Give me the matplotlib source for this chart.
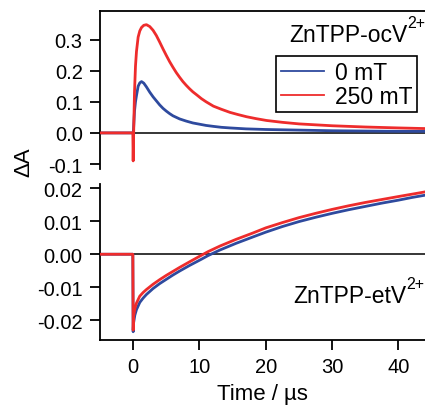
import matplotlib
matplotlib.use("Agg")
import matplotlib.pyplot as plt

plt.rcParams['font.family'] = ['Liberation Sans', 'DejaVu Sans']

# ---- data ----
t_top_red = [-5, -2, -0.05, 0.0, 0.05, 0.1, 0.2, 0.35, 0.5, 0.75, 1.0, 1.26, 1.6, 2.0,
             2.5, 3.0, 3.5, 4.0, 4.5, 5.0, 5.5, 6.0, 6.5, 7.0, 7.5, 8.0, 8.5, 9.0,
             9.6, 10.3, 11.0, 12.1, 13.3, 14.6, 15.8, 17.1, 18.5, 20.1, 22.5, 25.0,
             27.5, 30.0, 35.0, 40.0, 44.0]
red_top = [0.0, 0.0, 0.0, -0.09, -0.03, 0.03, 0.13, 0.215, 0.262, 0.308, 0.328, 0.339,
           0.346, 0.348, 0.342, 0.330, 0.313, 0.292, 0.270, 0.249, 0.229, 0.211, 0.194,
           0.179, 0.165, 0.153, 0.142, 0.132, 0.122, 0.110, 0.100, 0.086, 0.076, 0.066,
           0.059, 0.052, 0.046, 0.040, 0.034, 0.029, 0.026, 0.023, 0.019, 0.016, 0.014]
t_top_blue = [-5, -2, 0.0, 0.05, 0.1, 0.2, 0.35, 0.5, 0.75, 1.0, 1.26, 1.6, 2.0, 2.5,
              3.0, 3.5, 4.0, 4.5, 5.0, 5.5, 6.0, 6.5, 7.0, 8.0, 9.0, 10.0, 11.0, 12.1,
              13.3, 14.6, 17.0, 20.0, 25.0, 30.0, 35.0, 40.0, 44.0]
blue_top = [0.0, 0.0, 0.0, 0.01, 0.03, 0.07, 0.10, 0.12, 0.150, 0.161, 0.165, 0.160,
            0.148, 0.131, 0.116, 0.103, 0.090, 0.079, 0.070, 0.062, 0.055, 0.050, 0.045,
            0.038, 0.032, 0.028, 0.024, 0.021, 0.018, 0.016, 0.013, 0.011, 0.009,
            0.007, 0.006, 0.005, 0.005]

t_bot = [-5, -2, -0.05, 0.0, 0.05, 0.25, 0.5, 1.0, 1.5, 2.0, 3.0, 4.0, 5.0, 6.0, 7.0,
         8.5, 10.3, 11.3, 13.1, 15.5, 18.0, 20.0, 22.5, 25.0, 27.5, 30.0, 32.5, 35.0,
         37.5, 40.0, 42.0, 44.0]
red_bot = [0.0, 0.0, 0.0, -0.023, -0.019, -0.0165, -0.0148, -0.0127, -0.0116, -0.0107,
           -0.0091, -0.0077, -0.0064, -0.0052, -0.0040, -0.0023, -0.0003, 0.0008,
           0.0025, 0.0045, 0.0064, 0.0080, 0.0096, 0.0111, 0.0124, 0.0136, 0.0147,
           0.0157, 0.0166, 0.0175, 0.0182, 0.0189]
blue_bot = [0.0, 0.0, 0.0, -0.0235, -0.021, -0.0185, -0.0168, -0.0146, -0.0133,
            -0.0122, -0.0104, -0.0089, -0.0076, -0.0063, -0.0051, -0.0034, -0.0015,
            -0.0004, 0.0013, 0.0033, 0.0052, 0.0067, 0.0084, 0.0099, 0.0112, 0.0124,
            0.0135, 0.0145, 0.0155, 0.0164, 0.0172, 0.0179]

series_labels = ['0 mT', '250 mT']
top_label = 'ZnTPP-ocV'
bot_label = 'ZnTPP-etV'
charge = '2+'
xticks = [0, 10, 20, 30, 40]
top_yticks = [-0.1, 0.0, 0.1, 0.2, 0.3]
top_yticklabels = ['-0.1', '0.0', '0.1', '0.2', '0.3']
bot_yticks = [-0.02, -0.01, 0.0, 0.01, 0.02]
bot_yticklabels = ['-0.02', '-0.01', '0.00', '0.01', '0.02']

BLUE = '#2E4A9E'
RED = '#EE2C2C'

fig = plt.figure(figsize=(4.25, 4.1), dpi=100)
ax1 = fig.add_axes([0.2353, 0.5854, 0.7647, 0.3861])
ax2 = fig.add_axes([0.2353, 0.1683, 0.7647, 0.3805])

lw = 2.0
ax1.axhline(0, color='black', lw=1.1, zorder=1)
ax1.plot(t_top_blue, blue_top, color=BLUE, lw=lw, label=series_labels[0], zorder=2)
ax1.plot(t_top_red, red_top, color=RED, lw=lw, label=series_labels[1], zorder=3)
ax1.set_xlim(-5, 44)
ax1.set_ylim(-0.116, 0.393)
ax1.set_yticks(top_yticks)
ax1.set_yticklabels(top_yticklabels)
ax1.spines['right'].set_visible(False)
ax1.spines['bottom'].set_visible(False)
ax1.tick_params(axis='x', bottom=False, labelbottom=False)


def label_with_sup(ax, x_right, y_base, main, sup):
    # main text ends where the smaller, raised superscript begins
    sup_t = ax.text(x_right, y_base, sup, transform=ax.transAxes, ha='right',
                    va='baseline', fontsize=11.5)
    fig.canvas.draw()
    r = fig.canvas.get_renderer()
    bb = sup_t.get_window_extent(r)
    inv = ax.transAxes.inverted()
    x_left = inv.transform((bb.x0, bb.y0))[0]
    ax.text(x_left + 0.001, y_base, main, transform=ax.transAxes, ha='right',
            va='baseline', fontsize=16.5)
    sup_t.set_y(y_base + 0.085 * (0.386 / ax.get_position().height))


label_with_sup(ax1, 1.0, 0.809, top_label, charge)

leg = ax1.legend(loc='upper right', bbox_to_anchor=(0.975, 0.714),
                 borderaxespad=0, fancybox=False, framealpha=1, edgecolor='black',
                 fontsize=16.5, handlelength=1.9, handletextpad=0.45,
                 borderpad=0.2, labelspacing=0.05)
leg.get_frame().set_linewidth(1.2)
for h in leg.get_lines():
    h.set_linewidth(1.3)

ax2.axhline(0, color='black', lw=1.1, zorder=1)
ax2.plot(t_bot, blue_bot, color=BLUE, lw=lw, zorder=2)
ax2.plot(t_bot, red_bot, color=RED, lw=lw, zorder=3)
ax2.set_xlim(-5, 44)
ax2.set_ylim(-0.026, 0.0213)
ax2.set_yticks(bot_yticks)
ax2.set_yticklabels(bot_yticklabels)
ax2.set_xticks(xticks)
ax2.spines['right'].set_visible(False)
ax2.spines['top'].set_visible(False)
ax2.set_xlabel('Time / \u00b5s', fontsize=16, labelpad=5)

label_with_sup(ax2, 0.998, 0.244, bot_label, charge)

for ax in (ax1, ax2):
    for s in ax.spines.values():
        s.set_linewidth(1.3)
    ax.tick_params(direction='out', length=7.5, width=1.3, labelsize=14.5, pad=5)

fig.text(0.057, 0.605, '\u0394A', rotation=90, ha='center', va='center', fontsize=16)

fig.savefig('out.png', dpi=100)
